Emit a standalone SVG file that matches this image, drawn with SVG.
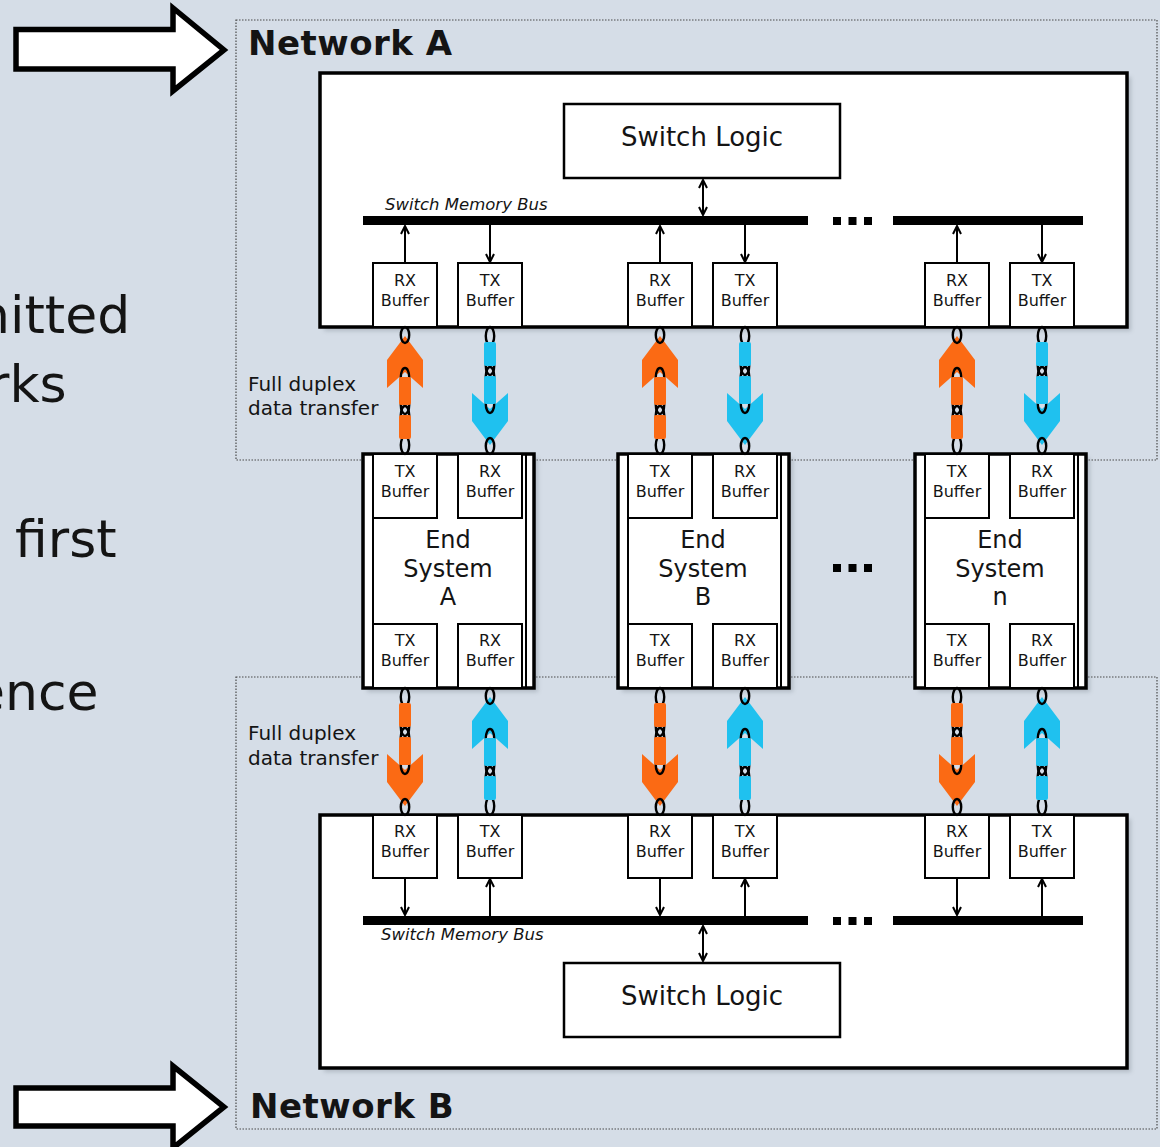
<svg xmlns="http://www.w3.org/2000/svg" width="1160" height="1147" viewBox="0 0 1160 1147">
  <defs>
    <style>
      text { font-family: "DejaVu Sans", Verdana, sans-serif; fill: #141414; }
      .net { font-weight: bold; font-size: 34px; letter-spacing: 0.5px; }
      .side { font-size: 52px; }
      .lbl { font-size: 20px; }
      .buf-t { font-size: 16px; text-anchor: middle; }
      .es-t { font-size: 24px; text-anchor: middle; }
      .logic-t { font-size: 26px; text-anchor: middle; }
      .bus-t { font-size: 16.5px; font-style: italic; }
      .frame { fill: none; stroke: #4a4a4a; stroke-width: 1.2; stroke-dasharray: 1.5 1.5; }
      .box { fill: #fff; stroke: #000; stroke-width: 3.5; }
      .inner { stroke: #000; stroke-width: 2; }
      .buf { fill: #fff; stroke: #000; stroke-width: 2; }
      .logic { fill: #fff; stroke: #000; stroke-width: 2.5; }
      .bus { fill: #000; }
      .wire { stroke: #000; stroke-width: 2; fill: none; }
      .shadow { fill: #7f8893; opacity: 0.4; filter: url(#soft); }
      .link { fill: none; stroke: #000; stroke-width: 2.4; }
      .big { fill: #fff; stroke: #000; stroke-width: 5.5; stroke-linejoin: miter; }
      .orange { color: #fb6a14; }
      .blue { color: #1fc1ef; }
    </style>
    <filter id="soft" x="-5%" y="-5%" width="110%" height="110%">
      <feGaussianBlur stdDeviation="2"/>
    </filter>
    <marker id="ah" viewBox="0 0 10 10" refX="9" refY="5" markerWidth="10" markerHeight="10"
            markerUnits="userSpaceOnUse" orient="auto-start-reverse">
      <path d="M1,1 L9,5 L1,9" fill="none" stroke="#000" stroke-width="2"/>
    </marker>
    <!-- chain link with chevron head; drawn pointing up, 127 px long -->
    <g id="chain">
      <path d="M0,9 L18,33 L18,61 L0,45 L-18,61 L-18,33 Z" fill="currentColor"/>
      <ellipse class="link" cx="0" cy="8" rx="4.2" ry="8"/>
      <ellipse class="link" cx="0" cy="50" rx="4.2" ry="9"/>
      <ellipse class="link" cx="0" cy="78" rx="4.2" ry="9"/>
      <ellipse class="link" cx="0" cy="88" rx="4.2" ry="9"/>
      <ellipse class="link" cx="0" cy="118" rx="4.2" ry="9"/>
      <rect x="-6" y="50" width="12" height="28" rx="2" fill="currentColor"/>
      <rect x="-6" y="88" width="12" height="24" rx="2" fill="currentColor"/>
    </g>
  </defs>

  <rect width="1160" height="1147" fill="#d5dde7"/>

  <!-- clipped side text -->
  <g id="side-text">
    <text class="side" x="-23" y="333">nitted</text>
    <text class="side" x="-12" y="402">rks</text>
    <text class="side" x="15" y="557">first</text>
    <text class="side" x="-27" y="710">ence</text>
  </g>

  <!-- pointer arrows -->
  <g id="pointer-a">
    <polygon class="big" points="16,29.5 173,29.5 173,8 224,50 173,91 173,69 16,69"/>
  </g>
  <g id="pointer-b">
    <polygon class="big" points="16,1088 173,1088 173,1066 224,1107 173,1148 173,1126 16,1126"/>
  </g>

  <!-- network frames -->
  <g id="network-a">
    <rect class="frame" x="236" y="20" width="921" height="440"/>
    <text class="net" x="248" y="55">Network A</text>
    <text class="lbl" x="248" y="391">Full duplex</text>
    <text class="lbl" x="248" y="415">data transfer</text>
  </g>
  <g id="network-b">
    <rect class="frame" x="236" y="677" width="921" height="452"/>
    <text class="net" x="250" y="1118">Network B</text>
    <text class="lbl" x="248" y="740">Full duplex</text>
    <text class="lbl" x="248" y="765">data transfer</text>
  </g>

  <!-- switch A -->
  <g id="switch-a">
    <rect class="shadow" x="324" y="77" width="807" height="254"/>
    <rect class="box" x="320" y="73" width="807" height="254"/>
    <rect class="logic" x="564" y="104" width="276" height="74"/>
    <text class="logic-t" x="702" y="146">Switch Logic</text>
    <rect class="bus" x="363" y="216" width="445" height="9"/>
    <rect class="bus" x="833" y="217" width="8" height="8"/>
    <rect class="bus" x="848.5" y="217" width="8" height="8"/>
    <rect class="bus" x="864" y="217" width="8" height="8"/>
    <rect class="bus" x="893" y="216" width="190" height="9"/>
    <text class="bus-t" x="385" y="210">Switch Memory Bus</text>
    <g id="switch-a-buffers">
      <rect class="buf" x="373" y="263" width="64" height="64"/>
      <rect class="buf" x="458" y="263" width="64" height="64"/>
      <rect class="buf" x="628" y="263" width="64" height="64"/>
      <rect class="buf" x="713" y="263" width="64" height="64"/>
      <rect class="buf" x="925" y="263" width="64" height="64"/>
      <rect class="buf" x="1010" y="263" width="64" height="64"/>
      <text class="buf-t" x="405" y="286">RX</text><text class="buf-t" x="405" y="306">Buffer</text>
      <text class="buf-t" x="490" y="286">TX</text><text class="buf-t" x="490" y="306">Buffer</text>
      <text class="buf-t" x="660" y="286">RX</text><text class="buf-t" x="660" y="306">Buffer</text>
      <text class="buf-t" x="745" y="286">TX</text><text class="buf-t" x="745" y="306">Buffer</text>
      <text class="buf-t" x="957" y="286">RX</text><text class="buf-t" x="957" y="306">Buffer</text>
      <text class="buf-t" x="1042" y="286">TX</text><text class="buf-t" x="1042" y="306">Buffer</text>
    </g>
  </g>

  <!-- switch B -->
  <g id="switch-b">
    <rect class="shadow" x="324" y="819" width="807" height="253"/>
    <rect class="box" x="320" y="815" width="807" height="253"/>
    <rect class="logic" x="564" y="963" width="276" height="74"/>
    <text class="logic-t" x="702" y="1005">Switch Logic</text>
    <rect class="bus" x="363" y="916" width="445" height="9"/>
    <rect class="bus" x="833" y="917" width="8" height="8"/>
    <rect class="bus" x="848.5" y="917" width="8" height="8"/>
    <rect class="bus" x="864" y="917" width="8" height="8"/>
    <rect class="bus" x="893" y="916" width="190" height="9"/>
    <text class="bus-t" x="381" y="940">Switch Memory Bus</text>
    <g id="switch-b-buffers">
      <rect class="buf" x="373" y="815" width="64" height="63"/>
      <rect class="buf" x="458" y="815" width="64" height="63"/>
      <rect class="buf" x="628" y="815" width="64" height="63"/>
      <rect class="buf" x="713" y="815" width="64" height="63"/>
      <rect class="buf" x="925" y="815" width="64" height="63"/>
      <rect class="buf" x="1010" y="815" width="64" height="63"/>
      <text class="buf-t" x="405" y="837">RX</text><text class="buf-t" x="405" y="857">Buffer</text>
      <text class="buf-t" x="490" y="837">TX</text><text class="buf-t" x="490" y="857">Buffer</text>
      <text class="buf-t" x="660" y="837">RX</text><text class="buf-t" x="660" y="857">Buffer</text>
      <text class="buf-t" x="745" y="837">TX</text><text class="buf-t" x="745" y="857">Buffer</text>
      <text class="buf-t" x="957" y="837">RX</text><text class="buf-t" x="957" y="857">Buffer</text>
      <text class="buf-t" x="1042" y="837">TX</text><text class="buf-t" x="1042" y="857">Buffer</text>
    </g>
  </g>

  <!-- end systems -->
  <g id="end-system-a">
    <rect class="shadow" x="367" y="458" width="171" height="234"/>
    <rect class="box" x="363" y="454" width="171" height="234"/>
    <line class="inner" x1="373" y1="454" x2="373" y2="688"/>
    <line class="inner" x1="526" y1="454" x2="526" y2="688"/>
    <rect class="buf" x="373" y="454" width="64" height="64"/>
    <rect class="buf" x="458" y="454" width="64" height="64"/>
    <rect class="buf" x="373" y="624" width="64" height="64"/>
    <rect class="buf" x="458" y="624" width="64" height="64"/>
    <text class="buf-t" x="405" y="477">TX</text><text class="buf-t" x="405" y="497">Buffer</text>
    <text class="buf-t" x="490" y="477">RX</text><text class="buf-t" x="490" y="497">Buffer</text>
    <text class="buf-t" x="405" y="646">TX</text><text class="buf-t" x="405" y="666">Buffer</text>
    <text class="buf-t" x="490" y="646">RX</text><text class="buf-t" x="490" y="666">Buffer</text>
    <text class="es-t" x="448" y="548">End</text>
    <text class="es-t" x="448" y="577">System</text>
    <text class="es-t" x="448" y="605">A</text>
  </g>
  <g id="end-system-b">
    <rect class="shadow" x="622" y="458" width="171" height="234"/>
    <rect class="box" x="618" y="454" width="171" height="234"/>
    <line class="inner" x1="628" y1="454" x2="628" y2="688"/>
    <line class="inner" x1="781" y1="454" x2="781" y2="688"/>
    <rect class="buf" x="628" y="454" width="64" height="64"/>
    <rect class="buf" x="713" y="454" width="64" height="64"/>
    <rect class="buf" x="628" y="624" width="64" height="64"/>
    <rect class="buf" x="713" y="624" width="64" height="64"/>
    <text class="buf-t" x="660" y="477">TX</text><text class="buf-t" x="660" y="497">Buffer</text>
    <text class="buf-t" x="745" y="477">RX</text><text class="buf-t" x="745" y="497">Buffer</text>
    <text class="buf-t" x="660" y="646">TX</text><text class="buf-t" x="660" y="666">Buffer</text>
    <text class="buf-t" x="745" y="646">RX</text><text class="buf-t" x="745" y="666">Buffer</text>
    <text class="es-t" x="703" y="548">End</text>
    <text class="es-t" x="703" y="577">System</text>
    <text class="es-t" x="703" y="605">B</text>
  </g>
  <g id="end-system-n">
    <rect class="shadow" x="919" y="458" width="171" height="234"/>
    <rect class="box" x="915" y="454" width="171" height="234"/>
    <line class="inner" x1="925" y1="454" x2="925" y2="688"/>
    <line class="inner" x1="1078" y1="454" x2="1078" y2="688"/>
    <rect class="buf" x="925" y="454" width="64" height="64"/>
    <rect class="buf" x="1010" y="454" width="64" height="64"/>
    <rect class="buf" x="925" y="624" width="64" height="64"/>
    <rect class="buf" x="1010" y="624" width="64" height="64"/>
    <text class="buf-t" x="957" y="477">TX</text><text class="buf-t" x="957" y="497">Buffer</text>
    <text class="buf-t" x="1042" y="477">RX</text><text class="buf-t" x="1042" y="497">Buffer</text>
    <text class="buf-t" x="957" y="646">TX</text><text class="buf-t" x="957" y="666">Buffer</text>
    <text class="buf-t" x="1042" y="646">RX</text><text class="buf-t" x="1042" y="666">Buffer</text>
    <text class="es-t" x="1000" y="548">End</text>
    <text class="es-t" x="1000" y="577">System</text>
    <text class="es-t" x="1000" y="605">n</text>
  </g>
  <g id="end-system-gap">
    <rect class="bus" x="833" y="564" width="8" height="8"/>
    <rect class="bus" x="848.5" y="564" width="8" height="8"/>
    <rect class="bus" x="864" y="564" width="8" height="8"/>
  </g>

  <!-- connectors -->
  <g id="connectors">
    <!-- buffer / bus links in switch A -->
    <line class="wire" x1="405" y1="263" x2="405" y2="226" marker-end="url(#ah)"/>
    <line class="wire" x1="490" y1="225" x2="490" y2="262" marker-end="url(#ah)"/>
    <line class="wire" x1="660" y1="263" x2="660" y2="226" marker-end="url(#ah)"/>
    <line class="wire" x1="745" y1="225" x2="745" y2="262" marker-end="url(#ah)"/>
    <line class="wire" x1="957" y1="263" x2="957" y2="226" marker-end="url(#ah)"/>
    <line class="wire" x1="1042" y1="225" x2="1042" y2="262" marker-end="url(#ah)"/>
    <line class="wire" x1="703" y1="180" x2="703" y2="215" marker-start="url(#ah)" marker-end="url(#ah)"/>
    <!-- buffer / bus links in switch B -->
    <line class="wire" x1="405" y1="878" x2="405" y2="915" marker-end="url(#ah)"/>
    <line class="wire" x1="490" y1="916" x2="490" y2="879" marker-end="url(#ah)"/>
    <line class="wire" x1="660" y1="878" x2="660" y2="915" marker-end="url(#ah)"/>
    <line class="wire" x1="745" y1="916" x2="745" y2="879" marker-end="url(#ah)"/>
    <line class="wire" x1="957" y1="878" x2="957" y2="915" marker-end="url(#ah)"/>
    <line class="wire" x1="1042" y1="916" x2="1042" y2="879" marker-end="url(#ah)"/>
    <line class="wire" x1="703" y1="926" x2="703" y2="961" marker-start="url(#ah)" marker-end="url(#ah)"/>

    <!-- full duplex links, network A -->
    <use href="#chain" class="orange" transform="translate(405,327)"/>
    <use href="#chain" class="blue" transform="translate(490,454) scale(1,-1)"/>
    <use href="#chain" class="orange" transform="translate(660,327)"/>
    <use href="#chain" class="blue" transform="translate(745,454) scale(1,-1)"/>
    <use href="#chain" class="orange" transform="translate(957,327)"/>
    <use href="#chain" class="blue" transform="translate(1042,454) scale(1,-1)"/>
    <!-- full duplex links, network B -->
    <use href="#chain" class="orange" transform="translate(405,815) scale(1,-1)"/>
    <use href="#chain" class="blue" transform="translate(490,688)"/>
    <use href="#chain" class="orange" transform="translate(660,815) scale(1,-1)"/>
    <use href="#chain" class="blue" transform="translate(745,688)"/>
    <use href="#chain" class="orange" transform="translate(957,815) scale(1,-1)"/>
    <use href="#chain" class="blue" transform="translate(1042,688)"/>
  </g>
</svg>
